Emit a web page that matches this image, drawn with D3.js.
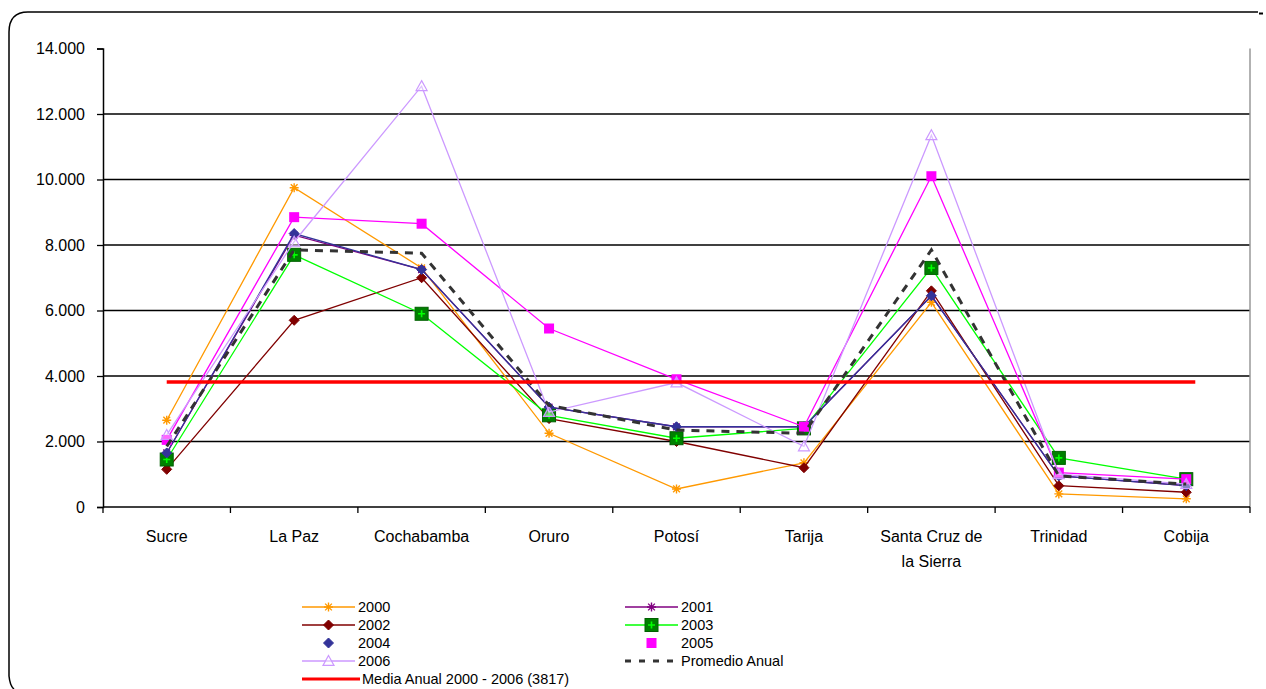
<!DOCTYPE html>
<html><head><meta charset="utf-8">
<script src="https://cdn.jsdelivr.net/npm/d3@7"></script>
<style>
body{margin:0;background:#fff;}
svg{display:block;font-family:"Liberation Sans",Arial,sans-serif;}
</style></head>
<body><svg id="c" width="1266" height="689"></svg>
<script>
const categories = ["Sucre","La Paz","Cochabamba","Oruro","Potosí","Tarija","Santa Cruz de la Sierra","Trinidad","Cobija"];
const s2000 = [2650, 9750, 7300, 2250, 550, 1350, 6250, 400, 250];
const s2001 = [1650, 8300, 7250, 3050, 2450, 2450, 6450, 950, 650];
const s2002 = [1150, 5700, 7000, 2700, 2000, 1200, 6600, 650, 450];
const s2003 = [1450, 7700, 5900, 2800, 2100, 2400, 7300, 1500, 850];
const s2004 = [1650, 8350, 7250, 3050, 2450, 2450, 6450, 950, 650];
const s2005 = [2050, 8850, 8650, 5450, 3900, 2450, 10100, 1050, 850];
const s2006 = [2200, 8100, 12850, 2900, 3800, 1850, 11350, 1000, 700];
const promedio = [1850, 7850, 7750, 3100, 2350, 2250, 7850, 950, 700];
const mediaAnual = 3817;
const yTicks = [0, 2000, 4000, 6000, 8000, 10000, 12000, 14000];

const series = [
  {name:"2000", values:s2000, color:"#FF9900", marker:"star", legendLine:true},
  {name:"2001", values:s2001, color:"#800080", marker:"star", legendLine:true},
  {name:"2002", values:s2002, color:"#800000", marker:"diamond", legendLine:true},
  {name:"2003", values:s2003, color:"#00FF00", marker:"bigsquare", legendLine:true},
  {name:"2004", values:s2004, color:"#333399", marker:"diamond", legendLine:false},
  {name:"2005", values:s2005, color:"#FF00FF", marker:"square", legendLine:false},
  {name:"2006", values:s2006, color:"#CC99FF", marker:"triangle", legendLine:true}
];

const svg = d3.select("#c");
const pL = 103, pR = 1250, pT = 48.5, pB = 507;
const x = d3.scaleBand().domain(categories).range([pL, pR]);
const xc = d => x(d) + x.bandwidth()/2;
const y = d3.scaleLinear().domain([0, 14000]).range([pB, pT]);
const loc = d3.formatLocale({decimal:",", thousands:".", grouping:[3], currency:["",""]});
const fmt = loc.format(",");

// frame (top + left edges with rounded corners)
svg.append("path")
  .attr("d","M9,676 L9,32 Q9,12 28,12 L1258,12")
  .attr("fill","none").attr("stroke","#000").attr("stroke-width",1.5);
svg.append("path").attr("d","M9,676 Q10,686 14,689").attr("fill","none").attr("stroke","#000").attr("stroke-width",1.5);
svg.append("line").attr("x1",1259).attr("x2",1263).attr("y1",13.5).attr("y2",13.5).attr("stroke","#000").attr("stroke-width",2);

// gridlines
svg.append("g").selectAll("line").data(yTicks.filter(t => t > 0 && t < 14000)).join("line")
  .attr("x1", pL).attr("x2", pR).attr("y1", d => y(d)).attr("y2", d => y(d))
  .attr("stroke","#000").attr("stroke-width",1.3);
// right plot edge
svg.append("line").attr("x1", pR).attr("x2", pR).attr("y1", pT).attr("y2", pB)
  .attr("stroke","#999").attr("stroke-width",1.5);

// y axis
const ya = svg.append("g").attr("transform",`translate(${pL},0)`)
  .call(d3.axisLeft(y).tickValues(yTicks).tickFormat(fmt).tickSize(6).tickPadding(12));
ya.select(".domain").attr("stroke","#000").attr("stroke-width",1.5);
ya.selectAll(".tick line").attr("stroke","#000").attr("stroke-width",1.3);
ya.selectAll("text").attr("font-size",16).attr("fill","#000").attr("font-family","Liberation Sans, Arial, sans-serif");

// x axis
const xa = svg.append("g").attr("transform",`translate(0,${pB})`);
xa.append("line").attr("x1", pL).attr("x2", pR).attr("stroke","#000").attr("stroke-width",1.5);
const bounds = categories.map(c => x(c)).concat([pR]);
xa.selectAll(".xt").data(bounds).join("line").attr("class","xt")
  .attr("x1", d => d).attr("x2", d => d).attr("y1",0).attr("y2",6).attr("stroke","#000").attr("stroke-width",1.3);
const labelLines = {"Santa Cruz de la Sierra":["Santa Cruz de","la Sierra"]};
categories.forEach(c => {
  const lines = labelLines[c] || [c];
  const t = svg.append("text").attr("x", xc(c)).attr("y", pB + 35).attr("text-anchor","middle")
    .attr("font-size",16).attr("fill","#000");
  lines.forEach((l,i) => t.append("tspan").attr("x", xc(c)).attr("dy", i === 0 ? 0 : 25).text(l));
});

// marker drawing
function drawMarker(g, type, color, cx, cy) {
  if (type === "star") {
    const r = 4.5;
    const p = `M${cx-r},${cy} L${cx+r},${cy} M${cx},${cy-r} L${cx},${cy+r} M${cx-r*0.75},${cy-r*0.75} L${cx+r*0.75},${cy+r*0.75} M${cx-r*0.75},${cy+r*0.75} L${cx+r*0.75},${cy-r*0.75}`;
    g.append("path").attr("d", p).attr("stroke", color).attr("stroke-width",1.4).attr("fill","none");
  } else if (type === "diamond") {
    const r = 5;
    g.append("path").attr("d",`M${cx},${cy-r} L${cx+r},${cy} L${cx},${cy+r} L${cx-r},${cy} Z`).attr("fill", color).attr("stroke", color);
  } else if (type === "bigsquare") {
    const r = 6.5;
    g.append("rect").attr("x",cx-r).attr("y",cy-r).attr("width",2*r).attr("height",2*r).attr("fill","#008000").attr("stroke","#006000").attr("stroke-width",1);
    g.append("path").attr("d",`M${cx-3.5},${cy} L${cx+3.5},${cy} M${cx},${cy-3.5} L${cx},${cy+3.5}`).attr("stroke","#00FF00").attr("stroke-width",1.6);
  } else if (type === "square") {
    const r = 5;
    g.append("rect").attr("x",cx-r).attr("y",cy-r).attr("width",2*r).attr("height",2*r).attr("fill", color);
  } else if (type === "triangle") {
    const r = 5.5;
    g.append("path").attr("d",`M${cx},${cy-r} L${cx+r},${cy+r*0.8} L${cx-r},${cy+r*0.8} Z`).attr("fill","#fff").attr("fill-opacity",0.4).attr("stroke", color).attr("stroke-width",1.2);
  }
}

const line = d3.line().x((d,i) => xc(categories[i])).y(d => y(d));
const plot = svg.append("g");
series.forEach(s => {
  plot.append("path").datum(s.values).attr("d", line).attr("fill","none").attr("stroke", s.color).attr("stroke-width",1.3);
  const mg = plot.append("g");
  s.values.forEach((v,i) => drawMarker(mg, s.marker, s.color, xc(categories[i]), y(v)));
});
// promedio
plot.append("path").datum(promedio).attr("d", line).attr("fill","none").attr("stroke","#333")
  .attr("stroke-width",3).attr("stroke-dasharray","8,7");
// media anual
plot.append("line").attr("x1", xc(categories[0])).attr("x2", xc(categories[categories.length-1]) + 9)
  .attr("y1", y(mediaAnual)).attr("y2", y(mediaAnual)).attr("stroke","#FF0000").attr("stroke-width",3.5);

// legend
const legendItems = [
  {s:series[0], col:0, row:0}, {s:series[1], col:1, row:0},
  {s:series[2], col:0, row:1}, {s:series[3], col:1, row:1},
  {s:series[4], col:0, row:2}, {s:series[5], col:1, row:2},
  {s:series[6], col:0, row:3}
];
const colX = [302, 625], rowY = [607, 625, 643, 661, 679], lw = 53;
const lg = svg.append("g");
legendItems.forEach(it => {
  const lx = colX[it.col], ly = rowY[it.row];
  if (it.s.legendLine) lg.append("line").attr("x1", lx).attr("x2", lx+lw).attr("y1", ly).attr("y2", ly).attr("stroke", it.s.color).attr("stroke-width",1.5);
  drawMarker(lg, it.s.marker, it.s.color, lx + lw/2, ly);
  lg.append("text").attr("x", lx+lw+3).attr("y", ly+5).attr("font-size",14.5).attr("fill","#000").text(it.s.name);
});
lg.append("line").attr("x1", colX[1]).attr("x2", colX[1]+lw).attr("y1", rowY[3]).attr("y2", rowY[3])
  .attr("stroke","#333").attr("stroke-width",3).attr("stroke-dasharray","6,8");
lg.append("text").attr("x", colX[1]+lw+3).attr("y", rowY[3]+5).attr("font-size",14.5).attr("fill","#000").text("Promedio Anual");
lg.append("line").attr("x1", colX[0]).attr("x2", colX[0]+lw+5).attr("y1", rowY[4]).attr("y2", rowY[4])
  .attr("stroke","#FF0000").attr("stroke-width",3);
lg.append("text").attr("x", colX[0]+lw+7).attr("y", rowY[4]+5).attr("font-size",14.5).attr("fill","#000").text("Media Anual 2000 - 2006 (3817)");
</script></body></html>
